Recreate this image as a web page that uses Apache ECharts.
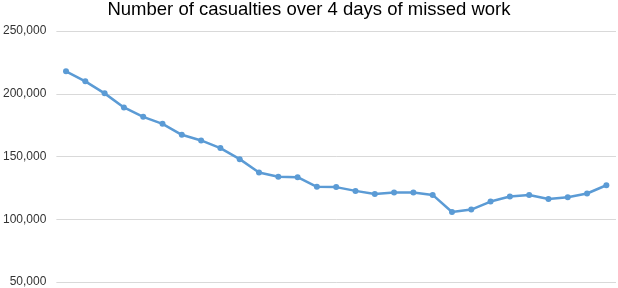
<!DOCTYPE html>
<html>
<head>
<meta charset="utf-8">
<script src="https://cdn.jsdelivr.net/npm/echarts@6/dist/echarts.min.js"></script>
<style>html,body{margin:0;padding:0;background:#fff}#c{width:618px;height:288px}</style>
</head>
<body>
<div id="c"></div>
<script>
const titleText = "Number of casualties over 4 days of missed work";
const categories = ["1","2","3","4","5","6","7","8","9","10","11","12","13","14","15","16","17","18","19","20","21","22","23","24","25","26","27","28","29"];
const casualties = [217900, 209900, 200300, 189100, 181600, 176000, 167300, 162800, 156700, 147900, 137300, 133800, 133500, 125800, 125600, 122600, 120200, 121300, 121300, 119400, 105800, 107700, 114100, 118100, 119400, 116200, 117500, 120500, 127100];
const yMin = 50000, yMax = 250000, yStep = 50000;

const chart = echarts.init(document.getElementById('c'), null, {renderer: 'canvas'});
chart.setOption({
  animation: false,
  title: {
    text: titleText, left: 'center', top: 0, padding: 0,
    textStyle: {fontFamily: 'Liberation Sans, Arial, sans-serif', fontSize: 18.5, fontWeight: 'normal', color: '#000'}
  },
  grid: {left: 53, right: 2, top: 31, bottom: 6, containLabel: false},
  xAxis: {
    type: 'category', data: categories, boundaryGap: true,
    axisLine: {show: false}, axisTick: {show: false}, axisLabel: {show: false}, splitLine: {show: false}
  },
  yAxis: {
    type: 'value', min: yMin, max: yMax, interval: yStep,
    axisLine: {show: false}, axisTick: {show: false},
    axisLabel: {
      color: '#333', fontSize: 12, fontFamily: 'Liberation Sans, Arial, sans-serif', margin: 10,
      formatter: v => v.toLocaleString('en-US')
    },
    splitLine: {lineStyle: {color: '#d9d9d9', width: 1}}
  },
  series: [{
    type: 'line', data: casualties,
    symbol: 'circle', symbolSize: 6,
    lineStyle: {color: '#5b9bd5', width: 2.5},
    itemStyle: {color: '#5b9bd5'}
  }]
});
</script>
</body>
</html>
